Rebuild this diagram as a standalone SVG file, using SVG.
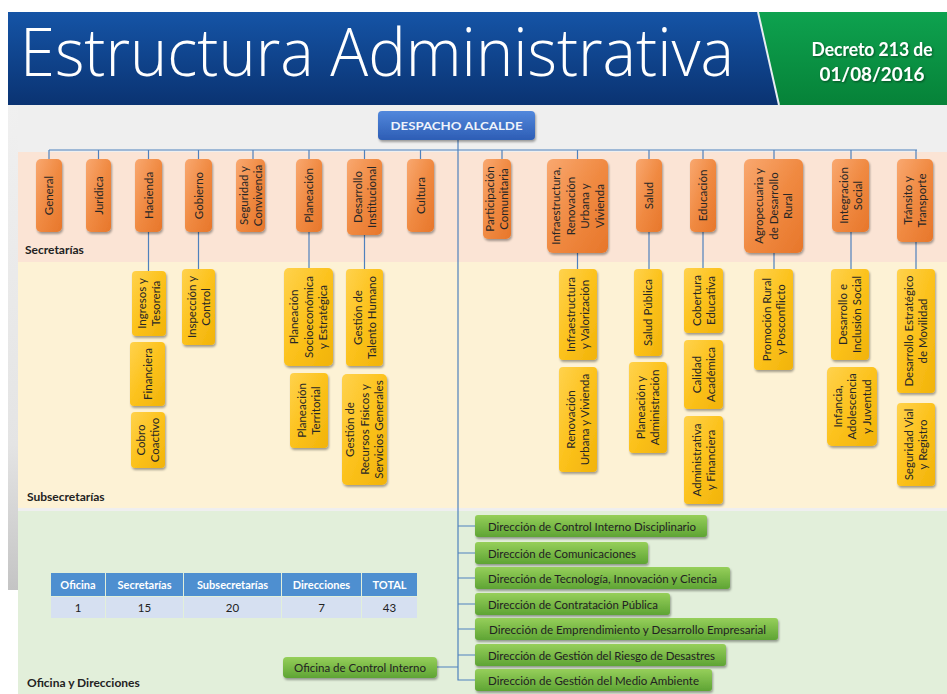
<svg xmlns="http://www.w3.org/2000/svg" width="947" height="694" viewBox="0 0 947 694">
<defs>
<linearGradient id="gBlue" x1="0" y1="0" x2="0" y2="1"><stop offset="0" stop-color="#1554a6"/><stop offset="1" stop-color="#0a3372"/></linearGradient>
<linearGradient id="gGreenHdr" x1="0" y1="0" x2="0" y2="1"><stop offset="0" stop-color="#0ea24f"/><stop offset="1" stop-color="#068238"/></linearGradient>
<linearGradient id="gDesp" x1="0" y1="0" x2="0" y2="1"><stop offset="0" stop-color="#5288dc"/><stop offset="1" stop-color="#2d5db5"/></linearGradient>
<linearGradient id="gOr" x1="0" y1="0" x2="1" y2="1"><stop offset="0" stop-color="#f9a870"/><stop offset="0.5" stop-color="#f08a42"/><stop offset="1" stop-color="#e7762a"/></linearGradient>
<linearGradient id="gYe" x1="0" y1="0" x2="1" y2="1"><stop offset="0" stop-color="#ffd24d"/><stop offset="0.5" stop-color="#fcc21c"/><stop offset="1" stop-color="#f1b30a"/></linearGradient>
<linearGradient id="gGr" x1="0" y1="0" x2="0" y2="1"><stop offset="0" stop-color="#96cf5a"/><stop offset="1" stop-color="#5ea434"/></linearGradient>
<linearGradient id="gStrip" x1="0" y1="0" x2="0" y2="1"><stop offset="0" stop-color="#f0f0f0"/><stop offset="0.7" stop-color="#e4e4e4"/><stop offset="1" stop-color="#c4c4c4"/></linearGradient>
<filter id="sh" x="-20%" y="-20%" width="150%" height="150%"><feDropShadow dx="1" dy="2" stdDeviation="1.3" flood-color="#000" flood-opacity="0.35"/></filter>
<filter id="tsh" x="-10%" y="-10%" width="120%" height="130%"><feDropShadow dx="1" dy="1" stdDeviation="0.8" flood-color="#000" flood-opacity="0.45"/></filter>
</defs>
<style>
.or{fill:url(#gOr);filter:url(#sh)}
.ye{fill:url(#gYe);filter:url(#sh)}
.gr{fill:url(#gGr);filter:url(#sh)}
.t{font-family:Lato,"Liberation Sans",sans-serif;font-size:11.5px;fill:#262626;text-anchor:middle}
.d{font-family:Lato,"Liberation Sans",sans-serif;font-size:11.5px;fill:#222}
.lbl{font-family:Lato,"Liberation Sans",sans-serif;font-size:12px;font-weight:bold;fill:#222}
.th{font-family:Lato,"Liberation Sans",sans-serif;font-size:11px;font-weight:bold;fill:#fff;text-anchor:middle}
.td{font-family:Lato,"Liberation Sans",sans-serif;font-size:11.5px;fill:#222;text-anchor:middle}
.cn{fill:none;stroke:#4f81bd;stroke-width:1.2}
</style>
<rect width="947" height="694" fill="#ffffff"/>
<rect x="8" y="105" width="939" height="485" fill="#efefef"/>
<rect x="8" y="105" width="10" height="485" fill="url(#gStrip)"/>
<rect x="18" y="152" width="929" height="110" fill="#fbe4d5"/>
<rect x="18" y="262" width="929" height="246" fill="#fdf2d5"/>
<rect x="18" y="511" width="929" height="183" fill="#e2efda"/>
<g id="header">
<rect x="8" y="12" width="939" height="93" fill="url(#gBlue)"/>
<polygon points="758,12 947,12 947,105 779,105" fill="url(#gGreenHdr)"/>
<line x1="758" y1="12" x2="779" y2="105" stroke="#e8eef2" stroke-width="2"/>
<text x="20" y="76" font-family="'Open Sans',Lato,sans-serif" font-weight="300" font-size="66" fill="#ffffff" textLength="714" lengthAdjust="spacingAndGlyphs">Estructura Administrativa</text>
<g font-family="Lato,'Liberation Sans',sans-serif" font-weight="bold" font-size="18" fill="#ffffff" text-anchor="middle" filter="url(#tsh)">
<text x="872" y="56" textLength="121" lengthAdjust="spacingAndGlyphs">Decreto 213 de</text>
<text x="872" y="81" textLength="105" lengthAdjust="spacingAndGlyphs">01/08/2016</text>
</g>
</g>
<text class="lbl" x="25" y="254">Secretarías</text>
<text class="lbl" x="27" y="501">Subsecretarías</text>
<text class="lbl" x="27" y="687">Oficina y Direcciones</text>
<g id="connectors">
<path class="cn" d="M458,140 V680 H475 M49,150 H917 M49,150 V159 M98.5,150 V159 M148.5,150 V159 M198.5,150 V159 M253,150 V159 M309,150 V159 M364.5,150 V159 M420.5,150 V159 M502,150 V159 M577.5,150 V159 M649,150 V159 M703,150 V159 M774,150 V159 M851,150 V159 M916,150 V159"/>
<path class="cn" d="M148.5,232 V271 M198.5,232 V269 M309,232 V268 M364.5,235 V269 M577.5,253 V269 M649,232 V269 M703,232 V268 M774,253 V269 M851,232 V269 M916,242 V269"/>
<path class="cn" d="M458,526 H475 M458,553 H475 M458,578 H475 M458,604 H475 M458,629 H475 M458,655 H475 M437,667 H458"/>
</g>
<g id="despacho">
<rect x="378" y="111" width="157" height="29" rx="4" fill="url(#gDesp)" filter="url(#sh)"/>
<text x="456.5" y="130" font-family="Lato,'Liberation Sans',sans-serif" font-weight="bold" font-size="12" fill="#eef3fb" text-anchor="middle" textLength="132" lengthAdjust="spacingAndGlyphs">DESPACHO ALCALDE</text>
</g>
<g id="sec-general"><rect class="or" x="36" y="159" width="26" height="73" rx="5"/><g transform="translate(49,195.5) rotate(-90)"><text class="t" y="4">General</text></g></g>
<g id="sec-juridica"><rect class="or" x="86" y="159" width="25" height="73" rx="5"/><g transform="translate(98.5,195.5) rotate(-90)"><text class="t" y="4">Jurídica</text></g></g>
<g id="sec-hacienda"><rect class="or" x="135" y="159" width="27" height="73" rx="5"/><g transform="translate(148.5,195.5) rotate(-90)"><text class="t" y="4">Hacienda</text></g></g>
<g id="sec-gobierno"><rect class="or" x="185" y="159" width="27" height="73" rx="5"/><g transform="translate(198.5,195.5) rotate(-90)"><text class="t" y="4">Gobierno</text></g></g>
<g id="sec-seguridad"><rect class="or" x="236" y="159" width="29" height="73" rx="5"/><g transform="translate(250.5,195.5) rotate(-90)"><text class="t" y="-3">Seguridad y</text><text class="t" y="11">Convivencia</text></g></g>
<g id="sec-planeacion"><rect class="or" x="296" y="159" width="26" height="73" rx="5"/><g transform="translate(309,195.5) rotate(-90)"><text class="t" y="4">Planeación</text></g></g>
<g id="sec-desarrollo"><rect class="or" x="347" y="159" width="35" height="76" rx="5"/><g transform="translate(364.5,197) rotate(-90)"><text class="t" y="-3">Desarrollo</text><text class="t" y="11">Institucional</text></g></g>
<g id="sec-cultura"><rect class="or" x="407" y="159" width="27" height="73" rx="5"/><g transform="translate(420.5,195.5) rotate(-90)"><text class="t" y="4">Cultura</text></g></g>
<g id="sec-participacion"><rect class="or" x="483" y="159" width="28" height="80" rx="5"/><g transform="translate(497,199) rotate(-90)"><text class="t" y="-3">Participación</text><text class="t" y="11">Comunitaria</text></g></g>
<g id="sec-infraestructura"><rect class="or" x="547" y="159" width="61" height="94" rx="6"/><g transform="translate(577.5,206) rotate(-90)"><text class="t" y="-17.5">Infraestructura,</text><text class="t" y="-3">Renovación</text><text class="t" y="11.5">Urbana y</text><text class="t" y="26">Vivienda</text></g></g>
<g id="sec-salud"><rect class="or" x="636" y="159" width="26" height="73" rx="5"/><g transform="translate(649,195.5) rotate(-90)"><text class="t" y="4">Salud</text></g></g>
<g id="sec-educacion"><rect class="or" x="690" y="159" width="26" height="73" rx="5"/><g transform="translate(703,195.5) rotate(-90)"><text class="t" y="4">Educación</text></g></g>
<g id="sec-agropecuaria"><rect class="or" x="744" y="159" width="59" height="94" rx="6"/><g transform="translate(773.5,206) rotate(-90)"><text class="t" y="-10.5">Agropecuaria y</text><text class="t" y="4">de Desarrollo</text><text class="t" y="18.5">Rural</text></g></g>
<g id="sec-integracion"><rect class="or" x="832" y="159" width="37" height="73" rx="5"/><g transform="translate(850.5,195.5) rotate(-90)"><text class="t" y="-3">Integración</text><text class="t" y="11">Social</text></g></g>
<g id="sec-transito"><rect class="or" x="897" y="159" width="36" height="83" rx="5"/><g transform="translate(915,200.5) rotate(-90)"><text class="t" y="-3">Tránsito y</text><text class="t" y="11">Transporte</text></g></g>
<g id="sub-ingresos"><rect class="ye" x="132" y="271" width="34" height="65" rx="4"/><g transform="translate(149,303.5) rotate(-90)"><text class="t" y="-3">Ingresos y</text><text class="t" y="11">Tesorería</text></g></g>
<g id="sub-financiera"><rect class="ye" x="130" y="342" width="35" height="64" rx="4"/><g transform="translate(147.5,374) rotate(-90)"><text class="t" y="4">Financiera</text></g></g>
<g id="sub-cobro"><rect class="ye" x="131" y="412" width="34" height="56" rx="4"/><g transform="translate(148,440) rotate(-90)"><text class="t" y="-3">Cobro</text><text class="t" y="11">Coactivo</text></g></g>
<g id="sub-inspeccion"><rect class="ye" x="182" y="269" width="33" height="76" rx="4"/><g transform="translate(198.5,307) rotate(-90)"><text class="t" y="-3">Inspección y</text><text class="t" y="11">Control</text></g></g>
<g id="sub-plan-socio"><rect class="ye" x="284" y="268" width="49" height="98" rx="5"/><g transform="translate(308.5,317) rotate(-90)"><text class="t" y="-10.5">Planeación</text><text class="t" y="4">Socioeconómica</text><text class="t" y="18.5">y Estratégica</text></g></g>
<g id="sub-plan-terr"><rect class="ye" x="290" y="373" width="38" height="75" rx="4"/><g transform="translate(309,410.5) rotate(-90)"><text class="t" y="-3">Planeación</text><text class="t" y="11">Territorial</text></g></g>
<g id="sub-talento"><rect class="ye" x="346" y="269" width="37" height="97" rx="4"/><g transform="translate(364.5,317.5) rotate(-90)"><text class="t" y="-3">Gestión de</text><text class="t" y="11">Talento Humano</text></g></g>
<g id="sub-recursos"><rect class="ye" x="342" y="374" width="45" height="111" rx="5"/><g transform="translate(364.5,429.5) rotate(-90)"><text class="t" y="-10.5">Gestión de</text><text class="t" y="4">Recursos Físicos y</text><text class="t" y="18.5">Servicios Generales</text></g></g>
<g id="sub-infra-val"><rect class="ye" x="559" y="269" width="38" height="91" rx="4"/><g transform="translate(578,314.5) rotate(-90)"><text class="t" y="-3">Infraestructura</text><text class="t" y="11">y Valorización</text></g></g>
<g id="sub-renovacion"><rect class="ye" x="559" y="367" width="38" height="105" rx="4"/><g transform="translate(578,419.5) rotate(-90)"><text class="t" y="-3">Renovación</text><text class="t" y="11">Urbana y Vivienda</text></g></g>
<g id="sub-salud-publica"><rect class="ye" x="634" y="269" width="28" height="87" rx="4"/><g transform="translate(648,312.5) rotate(-90)"><text class="t" y="4">Salud Pública</text></g></g>
<g id="sub-plan-admin"><rect class="ye" x="629" y="362" width="38" height="91" rx="4"/><g transform="translate(648,407.5) rotate(-90)"><text class="t" y="-3">Planeación y</text><text class="t" y="11">Administración</text></g></g>
<g id="sub-cobertura"><rect class="ye" x="684" y="268" width="39" height="65" rx="4"/><g transform="translate(703.5,300.5) rotate(-90)"><text class="t" y="-3">Cobertura</text><text class="t" y="11">Educativa</text></g></g>
<g id="sub-calidad"><rect class="ye" x="684" y="340" width="39" height="69" rx="4"/><g transform="translate(703.5,374.5) rotate(-90)"><text class="t" y="-3">Calidad</text><text class="t" y="11">Académica</text></g></g>
<g id="sub-admin-fin"><rect class="ye" x="684" y="416" width="39" height="88" rx="4"/><g transform="translate(703.5,460) rotate(-90)"><text class="t" y="-3">Administrativa</text><text class="t" y="11">y Financiera</text></g></g>
<g id="sub-promocion"><rect class="ye" x="754" y="269" width="39" height="101" rx="4"/><g transform="translate(773.5,319.5) rotate(-90)"><text class="t" y="-3">Promoción Rural</text><text class="t" y="11">y Posconflicto</text></g></g>
<g id="sub-inclusion"><rect class="ye" x="831" y="269" width="38" height="91" rx="4"/><g transform="translate(850,314.5) rotate(-90)"><text class="t" y="-3">Desarrollo e</text><text class="t" y="11">Inclusión Social</text></g></g>
<g id="sub-infancia"><rect class="ye" x="827" y="367" width="50" height="79" rx="5"/><g transform="translate(852,406.5) rotate(-90)"><text class="t" y="-10.5">Infancia,</text><text class="t" y="4">Adolescencia</text><text class="t" y="18.5">y Juventud</text></g></g>
<g id="sub-movilidad"><rect class="ye" x="897" y="269" width="38" height="124" rx="4"/><g transform="translate(916,331) rotate(-90)"><text class="t" y="-3">Desarrollo Estratégico</text><text class="t" y="11">de Movilidad</text></g></g>
<g id="sub-seg-vial"><rect class="ye" x="897" y="403" width="38" height="83" rx="4"/><g transform="translate(916,444.5) rotate(-90)"><text class="t" y="-3">Seguridad Vial</text><text class="t" y="11">y Registro</text></g></g>
<g id="dir-1"><rect class="gr" x="475" y="515" width="232" height="22" rx="3"/><text class="d" x="488" y="530.5" textLength="208" lengthAdjust="spacingAndGlyphs">Dirección de Control Interno Disciplinario</text></g>
<g id="dir-2"><rect class="gr" x="475" y="542" width="173" height="22" rx="3"/><text class="d" x="488" y="557.5" textLength="148" lengthAdjust="spacingAndGlyphs">Dirección de Comunicaciones</text></g>
<g id="dir-3"><rect class="gr" x="475" y="567" width="255" height="22" rx="3"/><text class="d" x="488" y="582.5" textLength="229" lengthAdjust="spacingAndGlyphs">Dirección de Tecnología, Innovación y Ciencia</text></g>
<g id="dir-4"><rect class="gr" x="475" y="593" width="195" height="22" rx="3"/><text class="d" x="488" y="608.5" textLength="170" lengthAdjust="spacingAndGlyphs">Dirección de Contratación Pública</text></g>
<g id="dir-5"><rect class="gr" x="475" y="618" width="303" height="22" rx="3"/><text class="d" x="489" y="633.5" textLength="277" lengthAdjust="spacingAndGlyphs">Dirección de Emprendimiento y Desarrollo Empresarial</text></g>
<g id="dir-6"><rect class="gr" x="475" y="644" width="251" height="22" rx="3"/><text class="d" x="488" y="659.5" textLength="227" lengthAdjust="spacingAndGlyphs">Dirección de Gestión del Riesgo de Desastres</text></g>
<g id="dir-7"><rect class="gr" x="475" y="669" width="237" height="22" rx="3"/><text class="d" x="488" y="684.5" textLength="211" lengthAdjust="spacingAndGlyphs">Dirección de Gestión del Medio Ambiente</text></g>
<g id="oficina-control"><rect class="gr" x="283" y="657" width="154" height="21" rx="4"/><text class="d" x="360" y="671.5" text-anchor="middle" textLength="132" lengthAdjust="spacingAndGlyphs">Oficina de Control Interno</text></g>
<g id="table">
<rect x="51" y="573" width="54" height="23" fill="#4e8fd0"/>
<rect x="106" y="573" width="77" height="23" fill="#4e8fd0"/>
<rect x="184" y="573" width="97" height="23" fill="#4e8fd0"/>
<rect x="282" y="573" width="79" height="23" fill="#4e8fd0"/>
<rect x="362" y="573" width="55" height="23" fill="#4e8fd0"/>
<rect x="51" y="597" width="54" height="21" fill="#d6e0f1"/>
<rect x="106" y="597" width="77" height="21" fill="#d6e0f1"/>
<rect x="184" y="597" width="97" height="21" fill="#d6e0f1"/>
<rect x="282" y="597" width="79" height="21" fill="#d6e0f1"/>
<rect x="362" y="597" width="55" height="21" fill="#d6e0f1"/>
<text class="th" x="78" y="588.5">Oficina</text>
<text class="th" x="144.5" y="588.5">Secretarías</text>
<text class="th" x="232.5" y="588.5">Subsecretarías</text>
<text class="th" x="321.5" y="588.5">Direcciones</text>
<text class="th" x="389.5" y="588.5">TOTAL</text>
<text class="td" x="78" y="611.5">1</text>
<text class="td" x="144.5" y="611.5">15</text>
<text class="td" x="232.5" y="611.5">20</text>
<text class="td" x="321.5" y="611.5">7</text>
<text class="td" x="389.5" y="611.5">43</text>
</g>
</svg>
